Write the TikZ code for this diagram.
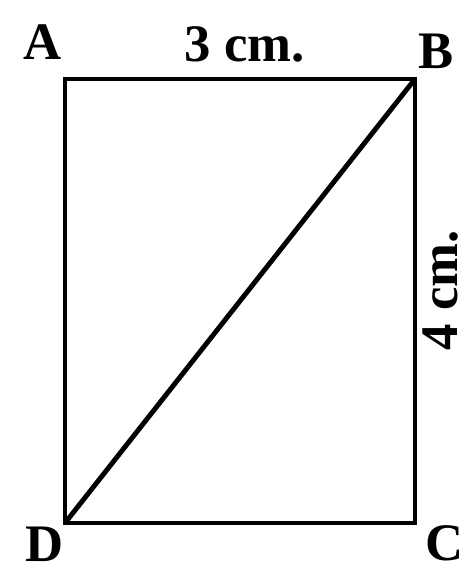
\documentclass[tikz,border=0pt]{standalone}
\usepackage{fontspec}
\setmainfont{Liberation Serif}
\usetikzlibrary{positioning}

\tikzset{
  side/.style={line width=2.8pt},
  lbl/.style={font=\fontsize{30}{32}\selectfont\bfseries, inner sep=0pt}
}

\begin{document}
\begin{tikzpicture}[x=0.02cm,y=-0.02cm]
    \useasboundingbox (0,0) rectangle (471,570);
    \coordinate (A) at (65,79);
    \coordinate (B) at (415,79);
    \coordinate (C) at (415,523);
    \coordinate (D) at (65,523);
    \draw[side] (A) -- (B) -- (C) -- (D) -- cycle;
    \draw[side] (D) -- (B);
    \node[lbl] (la) at (43,42) {A};
    \node[lbl] (lb) at (436,51) {B};
    \node[lbl] (lc) at (445,543) {C};
    \node[lbl] (ld) at (45,544) {D};
    \node[lbl] (top) at (245,44) {3 cm.};
    \node[lbl, rotate=90] (right) at (441,290) {4 cm.};
  \end{tikzpicture}
\end{document}
